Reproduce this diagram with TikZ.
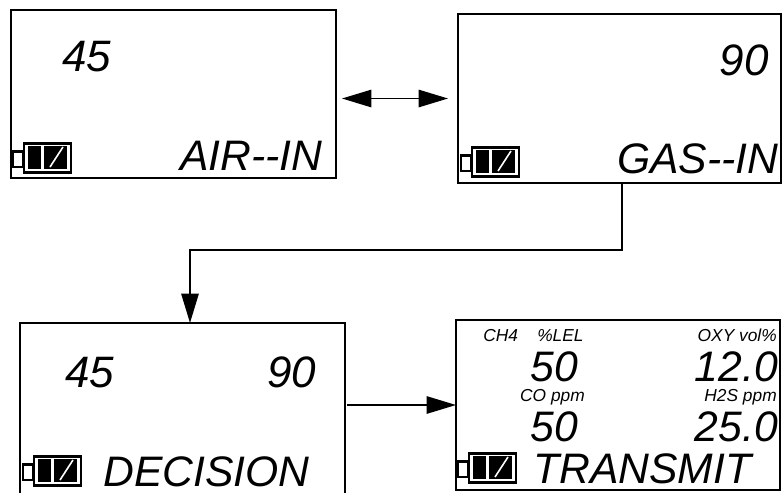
\documentclass[tikz,border=0pt]{standalone}
\usepackage{fontspec}
\setmainfont{Liberation Sans}
\usetikzlibrary{arrows.meta}
\colorlet{myink}{black}

\begin{document}
\begin{tikzpicture}[x=0.75pt,y=-0.75pt]
\tikzset{screen/.style 2 args={draw=myink,line width=1.5pt,inner sep=0pt,outer sep=0pt,minimum width=#1*0.75pt,minimum height=#2*0.75pt,anchor=north west}}
\tikzset{flow/.style={draw=myink,line width=1.3pt,-{Triangle[length=22pt,width=13pt]}}}
\tikzset{biglabel/.style={font=\fontsize{32}{32}\selectfont\itshape,inner sep=0pt,anchor=base west}}
\tikzset{vallabel/.style={font=\fontsize{33}{33}\selectfont\itshape,inner sep=0pt,anchor=base west}}
\tikzset{midlabel/.style={font=\fontsize{32}{32}\selectfont\itshape,inner sep=0pt,anchor=base east}}
\tikzset{smalllabel/.style={font=\fontsize{13}{13}\selectfont\itshape,inner sep=0pt,anchor=base east}}
\tikzset{battery/.pic={
  \draw[line width=2pt] (0,9.5) rectangle (10,25);
  \draw[line width=2pt,fill=white] (11,1.3) rectangle (58,30.7);
  \fill (15,4) rectangle (28,27);
  \fill (31,4) rectangle (54,27);
  \draw[white,line width=1.2pt] (37,25) -- (50,5);
}}
\clip (0,0) rectangle (783,493);
\node[screen={325}{168}] (air) at (11,10) {};
\node[screen={323}{169}] (gas) at (458,14) {};
\node[screen={325}{172}] (dec) at (20,323) {};
\node[screen={324}{170}] (trans) at (456,320) {};
% battery symbols
\pic at (13,142) {battery};
\pic at (461,146) {battery};
\pic at (23,455) {battery};
\pic at (458,452) {battery};
% texts
\node[vallabel] (airval) at (62,71) {45};
\node[biglabel] (airname) at (180,170) {AIR-{}-IN};
\node[vallabel,anchor=base east] (gasval) at (769,75) {90};
\node[biglabel] (gasname) at (617,173) {GAS-{}-IN};
\node[vallabel] (decleft) at (65,387) {45};
\node[vallabel] (decright) at (267,387) {90};
\node[biglabel] (decname) at (103,486) {DECISION};
\node[smalllabel,anchor=base west] (chfour) at (483,341) {CH4};
\node[smalllabel,anchor=base west] (lel) at (537,341) {\%LEL};
\node[smalllabel] (oxy) at (777,341) {OXY vol\%};
\node[midlabel] (chval) at (578,381) {50};
\node[midlabel] (oxyval) at (778,381) {12.0};
\node[smalllabel] (co) at (585,401) {CO ppm};
\node[smalllabel] (hs) at (777,401) {H2S ppm};
\node[midlabel] (coval) at (578,441) {50};
\node[midlabel] (hsval) at (778,441) {25.0};
\node[biglabel] (transname) at (533,483) {TRANSMIT};
% connectors
\coordinate (elbow) at (190,250);
\draw[flow,{Triangle[length=22pt,width=13pt]}-{Triangle[length=22pt,width=13pt]},shorten <=4.5pt,shorten >=7.5pt] (gas.west -| air.east) -- (gas.west);
\draw[flow] ([xshift=1.9pt]gas.south) |- (elbow) -- (elbow |- dec.north);
\draw[flow,shorten <=1.5pt] (dec.east |- trans.west) -- (trans.west);
\end{tikzpicture}
\end{document}
